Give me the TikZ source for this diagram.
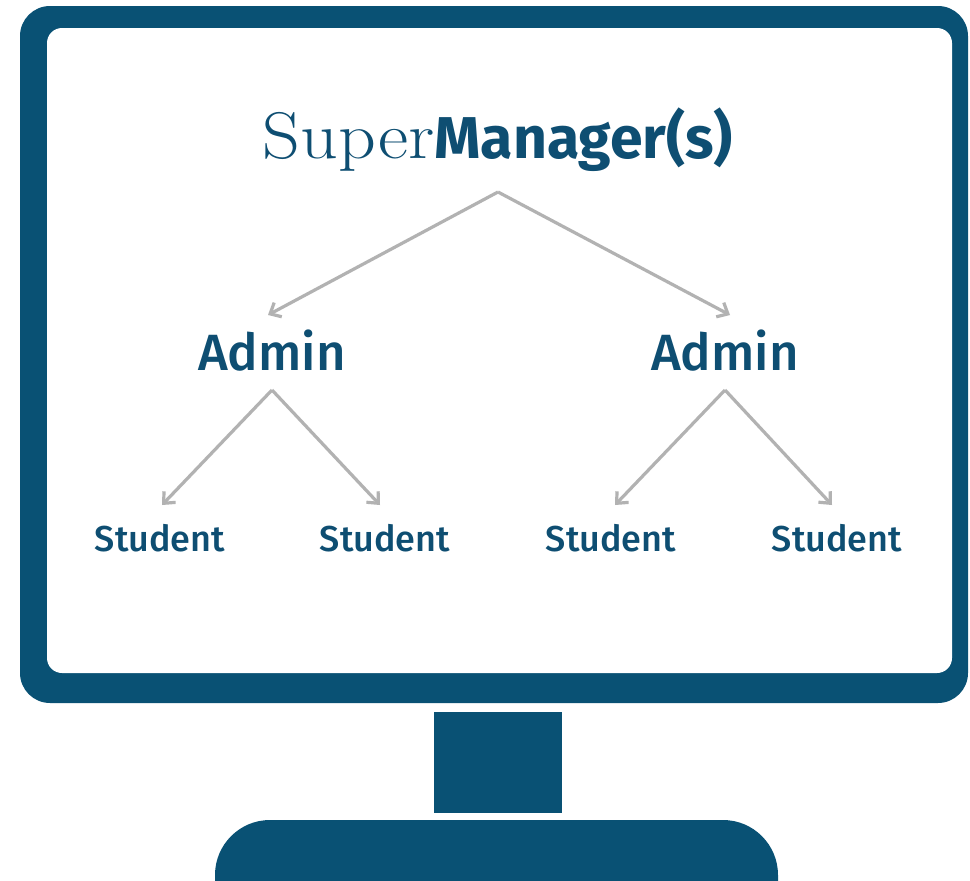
\documentclass[tikz,border=0pt]{standalone}
\usepackage{fontspec}
\setmainfont{Fira Sans}
\newfontfamily\medfont{Fira Sans Medium}
\newfontfamily\slabfont{Latin Modern Roman}[FakeStretch=1.12]
\usetikzlibrary{arrows.meta}
\definecolor{screenblue}{RGB}{9,81,116}
\definecolor{textblue}{RGB}{14,78,114}
\definecolor{linkgray}{RGB}{178,178,178}

\begin{document}
\begin{tikzpicture}%
	[x=1pt, y=-1pt,
	frame/.style={fill=screenblue},
	screen/.style={fill=white, rounded corners=15pt},
	role/.style={text=textblue, inner sep=0pt, anchor=base},
	boss/.style={role, font=\fontsize{59}{64}\selectfont},
	admin/.style={role, font=\medfont\fontsize{51}{56}\selectfont},
	student/.style={role, font=\medfont\fontsize{36}{40}\selectfont},
	link/.style={draw=linkgray, line width=3.2pt, -{Straight Barb[angle=84:12pt]}}]
%
\useasboundingbox (0,0) rectangle (970,881);
\clip (0,0) rectangle (970,881);
%%
%% The monitor
%%
\fill[frame, rounded corners=30pt] (20,6) rectangle (968,703);
\fill[screen] (47,28) rectangle (952,673);
\fill[frame] (434,712) rectangle (562,813);
\fill[frame, rounded corners=55pt] (215,820) rectangle (778,960);
%%
%% The roles
%%
\node[boss] (boss) at (498,158) {{\slabfont\fontsize{66}{72}\selectfont Super}\textbf{Manager(s)}};
\node[admin] (adminA) at (272,370) {Admin};
\node[admin] (adminB) at (725,370) {Admin};
\node[student] (studentA) at (160,551) {Student};
\node[student] (studentB) at (385,551) {Student};
\node[student] (studentC) at (611,551) {Student};
\node[student] (studentD) at (837,551) {Student};
%%
%% Forks and tips
%%
\coordinate (boss-fork) at ([yshift=-34pt]boss.base);
\coordinate (adminA-fork) at ([yshift=-20pt]adminA.base);
\coordinate (adminB-fork) at ([yshift=-20pt]adminB.base);
\coordinate (adminA-tip) at ([xshift=-4pt, yshift=55pt]adminA.base);
\coordinate (adminB-tip) at ([xshift=5pt, yshift=55pt]adminB.base);
\coordinate (studentA-tip) at ([xshift=2pt, yshift=46pt]studentA.base);
\coordinate (studentB-tip) at ([xshift=-5pt, yshift=46pt]studentB.base);
\coordinate (studentC-tip) at ([xshift=4pt, yshift=46pt]studentC.base);
\coordinate (studentD-tip) at ([xshift=-5pt, yshift=46pt]studentD.base);
%%
%% Connectors
%%
\draw[link] (boss-fork) -- (adminA-tip);
\draw[link] (boss-fork) -- (adminB-tip);
\draw[link] (adminA-fork) -- (studentA-tip);
\draw[link] (adminA-fork) -- (studentB-tip);
\draw[link] (adminB-fork) -- (studentC-tip);
\draw[link] (adminB-fork) -- (studentD-tip);
%%
\end{tikzpicture}
\end{document}
